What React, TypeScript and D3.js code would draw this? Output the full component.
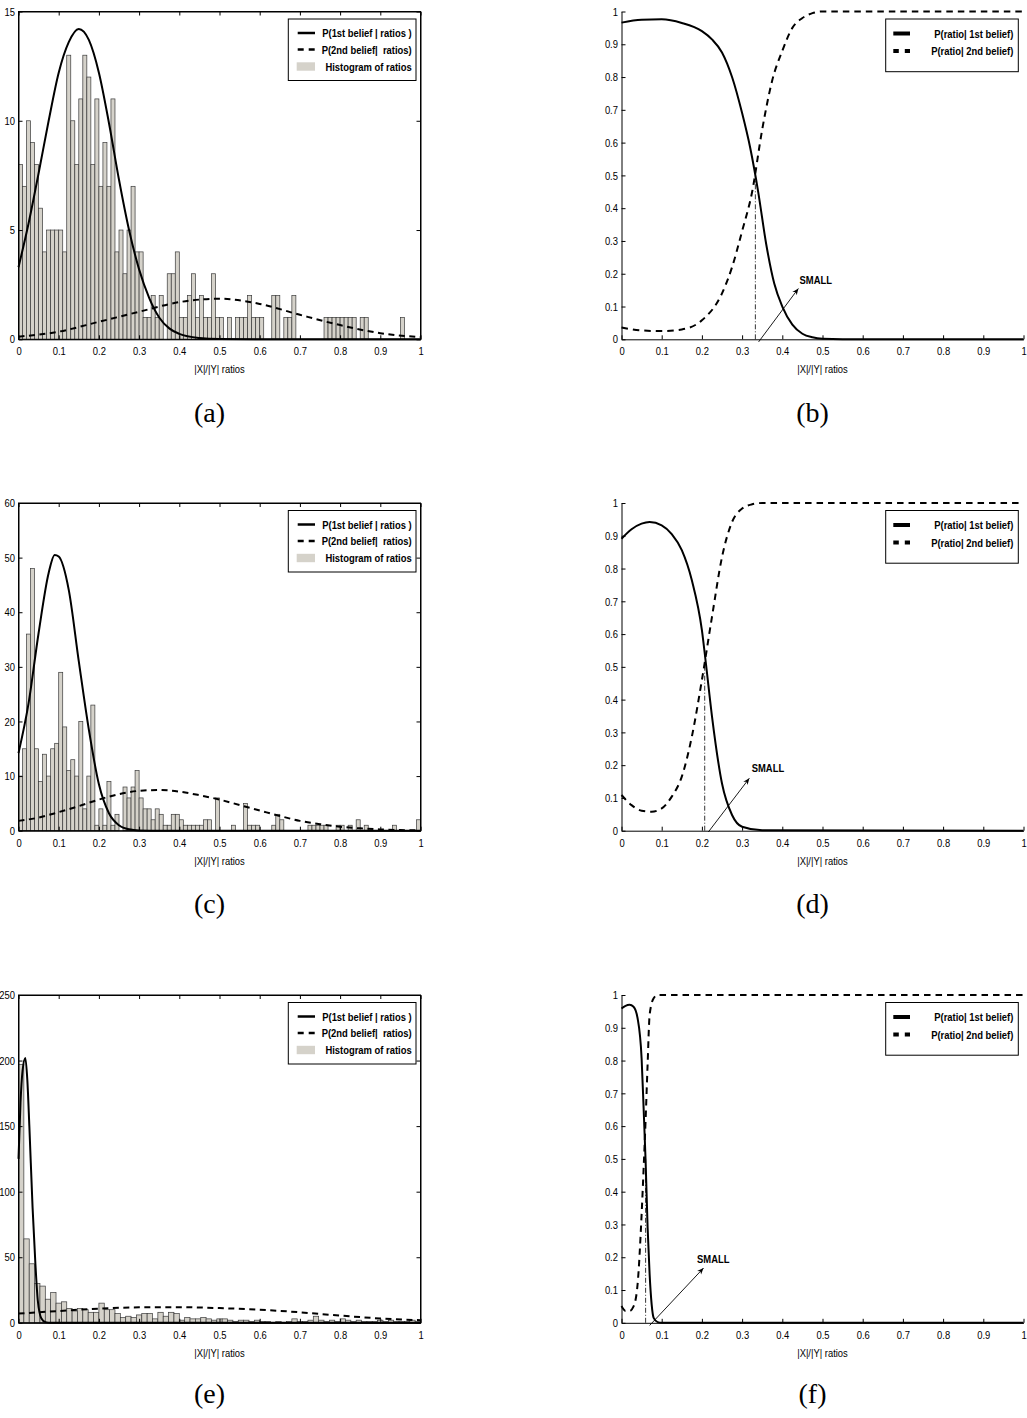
import React, { useRef, useEffect } from 'react';
import * as d3 from 'd3';

// ---------- panel (a) ----------
const histA = [
  8, 7, 10, 9, 8, 6, 4, 5, 5, 5, 5, 4,
  13, 10, 8, 11, 13, 12, 8, 11, 7, 9, 7, 11,
  4, 5, 3, 5, 7, 4, 4,
  1, 1, 2, 1, 2, 0, 3, 3, 4,
  1, 1, 2, 3, 1, 2, 1, 1, 3, 1,
  1, 0, 1, 0, 1, 1, 1, 2, 1, 1,
  1, 0, 0, 2, 2, 0, 1, 1, 2, 0,
  0, 0, 0, 0, 0, 0, 1, 1, 1, 1,
  1, 1, 1, 1, 0, 1, 1, 0, 0, 0,
  0, 0, 0, 0, 0, 1, 0, 0, 0, 0,
];
const beliefA1X = [0, 0.025, 0.05, 0.075, 0.1, 0.125, 0.15, 0.175, 0.2, 0.225, 0.25, 0.275, 0.3, 0.325, 0.35, 0.375, 0.4, 0.45, 0.5, 0.6, 1];
const beliefA1Y = [3.3, 5.3, 7.6, 10.0, 12.2, 13.6, 14.2, 13.7, 12.2, 9.9, 7.3, 5.0, 3.2, 1.9, 1.0, 0.5, 0.25, 0.06, 0.01, 0, 0];
const beliefA2X = [0, 0.1, 0.2, 0.3, 0.4, 0.5, 0.6, 0.7, 0.8, 0.9, 1];
const beliefA2Y = [0.12, 0.35, 0.8, 1.26, 1.7, 1.86, 1.62, 1.12, 0.65, 0.28, 0.1];

// ---------- panel (b) ----------
const postB1X = [0, 0.05, 0.1, 0.15, 0.2, 0.225, 0.25, 0.275, 0.3, 0.32, 0.34, 0.36, 0.38, 0.4, 0.425, 0.45, 0.475, 0.5, 0.6, 1];
const postB1Y = [0.966, 0.975, 0.976, 0.965, 0.94, 0.915, 0.875, 0.8, 0.69, 0.585, 0.45, 0.29, 0.17, 0.1, 0.045, 0.017, 0.006, 0.002, 0, 0];
const postB2X = [0, 0.05, 0.1, 0.15, 0.2, 0.25, 0.275, 0.3, 0.325, 0.35, 0.375, 0.4, 0.425, 0.45, 0.475, 0.5, 1];
const postB2Y = [0.036, 0.027, 0.025, 0.03, 0.058, 0.14, 0.22, 0.33, 0.45, 0.64, 0.79, 0.88, 0.95, 0.98, 0.995, 1, 1];

// ---------- panel (c) ----------
const histC = [
  10, 15, 36, 48, 15, 9, 14, 10, 15, 16, 29,
  19, 11, 13, 10, 20, 4, 10, 23,
  1, 4, 1, 9, 1, 3, 0, 8, 6, 8, 11,
  6, 4, 4, 2, 4, 3, 1, 1, 3, 3, 2, 1, 1, 1, 1, 1, 2, 2, 0, 6,
  0, 0, 0, 1, 0, 0, 5, 1, 1, 1,
  0, 0, 0, 1, 3, 2, 0, 0, 0, 0,
  0, 0, 1, 1, 1, 1, 1, 0, 0, 1,
  1, 0, 1, 0, 2, 0, 1, 0, 0, 0,
  0, 0, 0, 1, 0, 0, 0, 0, 0, 2,
];
const beliefC1X = [0, 0.025, 0.05, 0.075, 0.09, 0.1, 0.125, 0.15, 0.175, 0.2, 0.225, 0.25, 0.275, 0.3, 0.35, 1];
const beliefC1Y = [14.2, 23.3, 36.2, 47.2, 50.5, 50.2, 44.1, 31, 18.5, 8.5, 3.2, 1.0, 0.25, 0.05, 0, 0];
const beliefC2X = [0, 0.05, 0.1, 0.15, 0.2, 0.25, 0.3, 0.35, 0.4, 0.45, 0.5, 0.55, 0.6, 0.65, 0.7, 0.75, 0.8, 0.85, 0.9, 0.95, 1];
const beliefC2Y = [1.8, 2.4, 3.4, 4.5, 5.7, 6.7, 7.3, 7.45, 7.15, 6.5, 5.7, 4.7, 3.7, 2.7, 1.8, 1.2, 0.73, 0.43, 0.24, 0.12, 0.06];

// ---------- panel (d) ----------
const postD1X = [0, 0.025, 0.05, 0.07, 0.1, 0.125, 0.15, 0.175, 0.2, 0.21, 0.225, 0.25, 0.275, 0.3, 0.35, 1];
const postD1Y = [0.891, 0.92, 0.937, 0.942, 0.932, 0.905, 0.856, 0.764, 0.612, 0.51, 0.35, 0.144, 0.048, 0.012, 0.001, 0];
const postD2X = [0, 0.025, 0.05, 0.075, 0.1, 0.125, 0.15, 0.175, 0.2, 0.225, 0.25, 0.275, 0.3, 0.325, 0.35, 1];
const postD2Y = [0.109, 0.078, 0.061, 0.058, 0.068, 0.104, 0.165, 0.287, 0.46, 0.652, 0.835, 0.942, 0.983, 0.996, 1, 1];

// ---------- panel (e) ----------
const histE = [
  197, 64, 45, 30, 28, 18, 23, 15, 16, 11, 9, 11, 10, 8, 8, 15, 10, 10, 7, 4, 5, 4, 6, 7, 7, 3, 8, 5, 8,
  7, 2, 4, 3, 3, 4, 3, 2, 3, 3,
  2, 1, 2, 2, 1, 2, 1, 1, 0, 1,
  0, 1, 3, 1, 1, 2, 5, 2, 1, 2,
  1, 3, 2, 1, 2, 1, 1, 1, 2, 1,
  2, 1, 1, 1, 2, 1,
];
const beliefE1X = [0, 0.005, 0.01, 0.017, 0.022, 0.027, 0.035, 0.042, 0.048, 0.057, 0.067, 0.08, 1];
const beliefE1Y = [125, 168, 192, 202, 185, 150, 88, 45, 17, 3.3, 0.5, 0, 0];
const beliefE2X = [0, 0.1, 0.2, 0.3, 0.4, 0.5, 0.6, 0.7, 0.8, 0.9, 1];
const beliefE2Y = [7, 9, 10.8, 11.8, 11.9, 11.2, 10, 8, 5.5, 3.3, 2];

// ---------- panel (f) ----------
const postF1X = [0, 0.01, 0.02, 0.03, 0.04, 0.05, 0.055, 0.06, 0.065, 0.07, 0.075, 0.08, 0.09, 0.1, 1];
const postF1Y = [0.959, 0.967, 0.97, 0.964, 0.929, 0.807, 0.655, 0.492, 0.289, 0.147, 0.056, 0.015, 0.002, 0, 0];
const postF2X = [0, 0.01, 0.02, 0.03, 0.04, 0.05, 0.055, 0.06, 0.065, 0.07, 0.08, 0.09, 1];
const postF2Y = [0.051, 0.036, 0.036, 0.05, 0.117, 0.33, 0.47, 0.62, 0.79, 0.94, 0.99, 1, 1];

// threshold (dash-dot line) and "SMALL" arrow: [x threshold, arrow x0, y0, x1, y1, label x, label y]
const smallB = [0.333, 0.341, -0.008, 0.44, 0.155, 0.443, 0.182];
const smallD = [0.207, 0.216, -0.004, 0.318, 0.16, 0.324, 0.19];
const smallF = [0.06, 0.07, -0.008, 0.204, 0.167, 0.188, 0.194];

const xTickVals = d3.range(0, 11).map(i => i / 10);
const histLegend = ['P(1st belief | ratios )', 'P(2nd belief|  ratios)', 'Histogram of ratios'];
const postLegend = ['P(ratio| 1st belief)', 'P(ratio| 2nd belief)'];
const captions = ['(a)', '(b)', '(c)', '(d)', '(e)', '(f)'];

const FONT = "'Liberation Sans', Arial, sans-serif";
const SQUEEZE = 0.82; // the figure uses a narrow Helvetica
const BAR_FILL = '#d5d2ca';

type Box = { left: number; right: number; top: number; bottom: number };
type Sel = d3.Selection<SVGSVGElement, unknown, null, undefined>;

const COLS = [{ left: 18.5, right: 420.5 }, { left: 621.5, right: 1023.5 }];
const ROWS = [{ top: 11.5, bottom: 339.3 }, { top: 503, bottom: 830.7 }, { top: 995, bottom: 1322.8 }];

const fmt = (d: d3.NumberValue) => `${Math.round(+d * 10) / 10}`;

function styleAxis(sel: d3.Selection<SVGGElement, unknown, null, undefined>) {
  sel.attr('font-family', FONT).attr('font-size', 11.5);
  sel.selectAll('path.domain').attr('stroke', '#000').attr('stroke-width', 1);
  sel.selectAll('.tick line').attr('stroke', '#000').attr('stroke-width', 1);
  sel.selectAll('.tick text').attr('fill', '#000').attr('transform', `scale(${SQUEEZE},1)`);
}

function narrowText(svg: Sel, x: number, y: number, label: string, anchor: string, bold: boolean) {
  svg.append('text')
    .attr('transform', `translate(${x},${y}) scale(${SQUEEZE},1)`)
    .attr('text-anchor', anchor)
    .attr('font-family', FONT)
    .attr('font-size', 11.5)
    .attr('font-weight', bold ? 'bold' : 'normal')
    .style('white-space', 'pre')
    .text(label);
}

function drawAxes(
  svg: Sel, box: Box,
  x: d3.ScaleLinear<number, number>, y: d3.ScaleLinear<number, number>,
  yTicks: number[], full: boolean
) {
  const bottom = svg.append('g').attr('transform', `translate(0,${box.bottom})`)
    .call(d3.axisBottom(x).tickValues(xTickVals).tickSizeInner(-4).tickSizeOuter(0).tickPadding(7.8).tickFormat(fmt));
  styleAxis(bottom);
  const left = svg.append('g').attr('transform', `translate(${box.left},0)`)
    .call(d3.axisLeft(y).tickValues(yTicks).tickSizeInner(-4).tickSizeOuter(0).tickPadding(4.3).tickFormat(fmt));
  styleAxis(left);
  if (full) {
    const top = svg.append('g').attr('transform', `translate(0,${box.top})`)
      .call(d3.axisTop(x).tickValues(xTickVals).tickSizeInner(-4).tickSizeOuter(0).tickFormat(() => ''));
    styleAxis(top);
    const right = svg.append('g').attr('transform', `translate(${box.right},0)`)
      .call(d3.axisRight(y).tickValues(yTicks).tickSizeInner(-4).tickSizeOuter(0).tickFormat(() => ''));
    styleAxis(right);
  }
  narrowText(svg, (box.left + box.right) / 2, box.bottom + 34, '|X|/|Y| ratios', 'middle', false);
}

function curve(
  svg: Sel, xs: number[], ys: number[],
  x: d3.ScaleLinear<number, number>, y: d3.ScaleLinear<number, number>,
  dash: string | null
) {
  const line = d3.line<number>()
    .x((_, i) => x(xs[i]))
    .y(d => y(d))
    .curve(d3.curveMonotoneX);
  svg.append('path')
    .attr('d', line(ys))
    .attr('fill', 'none')
    .attr('stroke', '#000')
    .attr('stroke-width', 2)
    .attr('stroke-dasharray', dash);
}

function legendBox(svg: Sel, x0: number, y0: number, x1: number, y1: number) {
  svg.append('rect')
    .attr('x', x0).attr('y', y0)
    .attr('width', x1 - x0).attr('height', y1 - y0)
    .attr('fill', '#fff').attr('stroke', '#000').attr('stroke-width', 1);
}

function histPanel(
  svg: Sel, box: Box, counts: number[], yMax: number, yStep: number,
  c1x: number[], c1y: number[], c2x: number[], c2y: number[]
) {
  const x = d3.scaleLinear().domain([0, 1]).range([box.left, box.right]);
  const y = d3.scaleLinear().domain([0, yMax]).range([box.bottom, box.top]);
  const bw = 1 / counts.length;
  const bins = counts.map((n, i) => ({ x0: i * bw, n })).filter(b => b.n > 0);

  svg.append('g')
    .selectAll('rect')
    .data(bins)
    .join('rect')
    .attr('x', d => x(d.x0))
    .attr('y', d => y(d.n))
    .attr('width', x(bw) - x(0))
    .attr('height', d => y(0) - y(d.n))
    .attr('fill', BAR_FILL)
    .attr('stroke', '#3a3a3a')
    .attr('stroke-width', 0.7);

  curve(svg, c1x, c1y, x, y, null);
  curve(svg, c2x, c2y, x, y, '6,4.5');

  svg.append('rect')
    .attr('x', box.left).attr('y', box.top)
    .attr('width', box.right - box.left).attr('height', box.bottom - box.top)
    .attr('fill', 'none').attr('stroke', '#000').attr('stroke-width', 1);

  drawAxes(svg, box, x, y, d3.range(0, yMax + 0.001, yStep), true);

  const R = box.right, T = box.top;
  legendBox(svg, R - 132.2, T + 7.5, R - 4.5, T + 69);
  const rows = [T + 21.5, T + 38, T + 55];
  svg.append('line').attr('x1', R - 122.8).attr('x2', R - 105.5).attr('y1', rows[0]).attr('y2', rows[0])
    .attr('stroke', '#000').attr('stroke-width', 2.5);
  svg.append('line').attr('x1', R - 122.8).attr('x2', R - 105.5).attr('y1', rows[1]).attr('y2', rows[1])
    .attr('stroke', '#000').attr('stroke-width', 2.5).attr('stroke-dasharray', '6,5');
  svg.append('rect').attr('x', R - 123.8).attr('y', rows[2] - 4.2).attr('width', 18.3).attr('height', 8.4)
    .attr('fill', BAR_FILL);
  histLegend.forEach((t, i) => narrowText(svg, R - 8.8, rows[i] + 4, t, 'end', true));
}

function postPanel(
  svg: Sel, box: Box,
  c1x: number[], c1y: number[], c2x: number[], c2y: number[],
  small: number[]
) {
  const x = d3.scaleLinear().domain([0, 1]).range([box.left, box.right]);
  const y = d3.scaleLinear().domain([0, 1]).range([box.bottom, box.top]);

  drawAxes(svg, box, x, y, d3.range(0, 11).map(i => i / 10), false);

  curve(svg, c1x, c1y, x, y, null);
  curve(svg, c2x, c2y, x, y, '6.5,5');

  const [th, ax0, ay0, ax1, ay1, lx, ly] = small;
  svg.append('line')
    .attr('x1', x(th)).attr('x2', x(th)).attr('y1', y(0)).attr('y2', y(0.5))
    .attr('stroke', '#000').attr('stroke-width', 0.8).attr('stroke-dasharray', '5,2,1,2');

  const px0 = x(ax0), py0 = y(ay0), px1 = x(ax1), py1 = y(ay1);
  svg.append('line')
    .attr('x1', px0).attr('y1', py0).attr('x2', px1).attr('y2', py1)
    .attr('stroke', '#000').attr('stroke-width', 0.9);
  const ang = Math.atan2(py1 - py0, px1 - px0);
  const head = (a: number, r: number) => [px1 - r * Math.cos(ang + a), py1 - r * Math.sin(ang + a)];
  const [w1x, w1y] = head(0.4, 7);
  const [nx, ny] = head(0, 4.5);
  const [w2x, w2y] = head(-0.4, 7);
  svg.append('path')
    .attr('d', `M${px1},${py1}L${w1x},${w1y}L${nx},${ny}L${w2x},${w2y}Z`)
    .attr('fill', '#000');
  narrowText(svg, x(lx), y(ly) + 4, 'SMALL', 'start', true);

  const R = box.right, T = box.top;
  legendBox(svg, R - 137.8, T + 7.5, R - 5.2, T + 60.2);
  const rows = [T + 22, T + 39.5];
  svg.append('line').attr('x1', R - 130.2).attr('x2', R - 113.5).attr('y1', rows[0]).attr('y2', rows[0])
    .attr('stroke', '#000').attr('stroke-width', 4);
  svg.append('line').attr('x1', R - 130.2).attr('x2', R - 113.5).attr('y1', rows[1]).attr('y2', rows[1])
    .attr('stroke', '#000').attr('stroke-width', 4).attr('stroke-dasharray', '5.5,6');
  postLegend.forEach((t, i) => narrowText(svg, R - 10.2, rows[i] + 4, t, 'end', true));
}

export default function App() {
  const svgRef = useRef<SVGSVGElement>(null);

  useEffect(() => {
    if (!svgRef.current) return;
    const svg = d3.select(svgRef.current);
    svg.selectAll('*').remove();

    const box = (r: number, c: number): Box => ({ ...COLS[c], ...ROWS[r] });

    histPanel(svg, box(0, 0), histA, 15, 5, beliefA1X, beliefA1Y, beliefA2X, beliefA2Y);
    postPanel(svg, box(0, 1), postB1X, postB1Y, postB2X, postB2Y, smallB);
    histPanel(svg, box(1, 0), histC, 60, 10, beliefC1X, beliefC1Y, beliefC2X, beliefC2Y);
    postPanel(svg, box(1, 1), postD1X, postD1Y, postD2X, postD2Y, smallD);
    histPanel(svg, box(2, 0), histE, 250, 50, beliefE1X, beliefE1Y, beliefE2X, beliefE2Y);
    postPanel(svg, box(2, 1), postF1X, postF1Y, postF2X, postF2Y, smallF);

    const capBase = [422, 913, 1403];
    captions.forEach((c, i) => {
      const col = COLS[i % 2];
      svg.append('text')
        .attr('x', (col.left + col.right) / 2 - 10)
        .attr('y', capBase[Math.floor(i / 2)])
        .attr('text-anchor', 'middle')
        .attr('font-family', "'Liberation Serif', 'DejaVu Serif', serif")
        .attr('font-size', 28)
        .text(c);
    });
  }, []);

  return (
    <svg
      ref={svgRef}
      width={1027}
      height={1418}
      style={{ position: 'absolute', left: 0, top: 0, background: '#fff' }}
    />
  );
}
